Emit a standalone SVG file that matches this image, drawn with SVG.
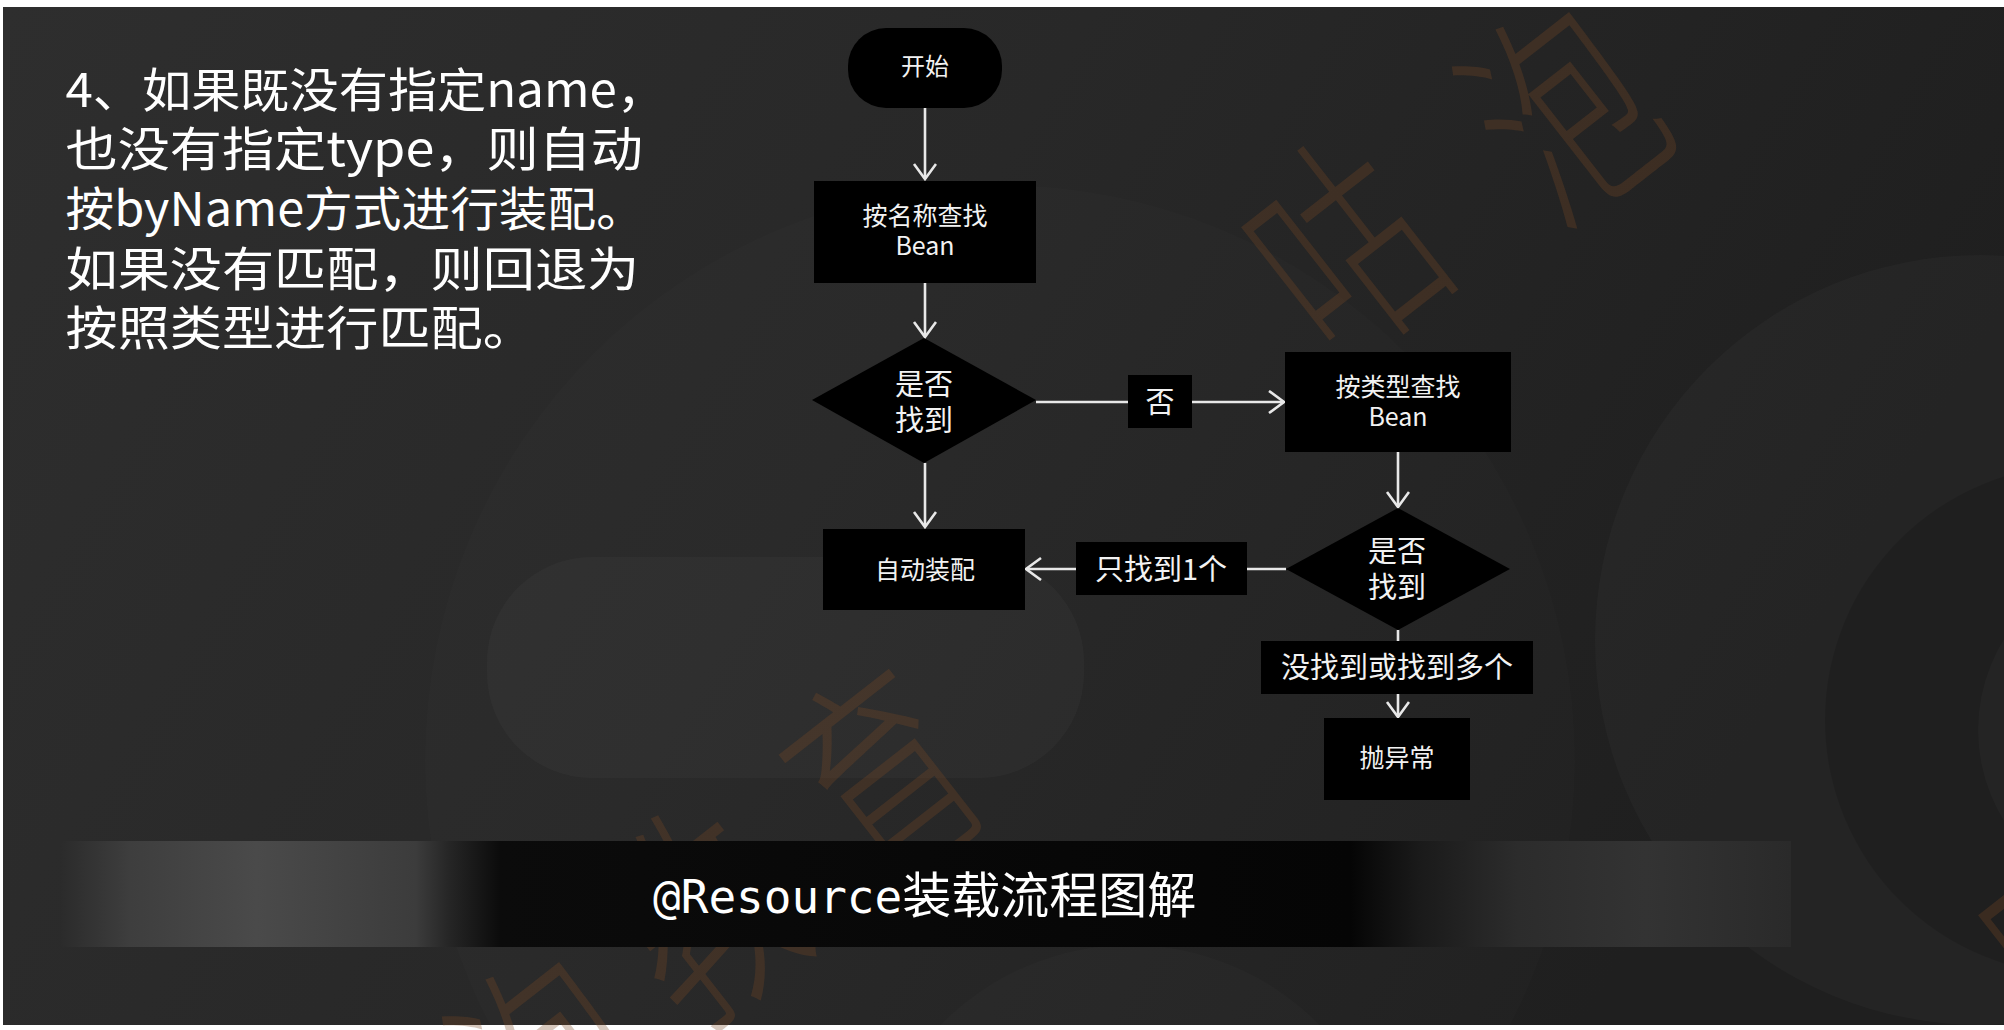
<svg xmlns="http://www.w3.org/2000/svg" width="2004" height="1030" viewBox="0 0 2004 1030">
  <defs>
    <linearGradient id="bg" x1="0" y1="0" x2="1" y2="0.3">
      <stop offset="0" stop-color="#2e2e2e"/>
      <stop offset="0.5" stop-color="#282828"/>
      <stop offset="1" stop-color="#1f1f1f"/>
    </linearGradient>
    <linearGradient id="bar" gradientUnits="userSpaceOnUse" x1="61" y1="0" x2="1791" y2="0">
      <stop offset="0" stop-color="#2b2b2b"/>
      <stop offset="0.04" stop-color="#3e3e3e"/>
      <stop offset="0.113" stop-color="#4a4a4a"/>
      <stop offset="0.205" stop-color="#3c3c3c"/>
      <stop offset="0.224" stop-color="#262626"/>
      <stop offset="0.254" stop-color="#0b0b0b"/>
      <stop offset="0.745" stop-color="#050505"/>
      <stop offset="0.785" stop-color="#1a1a1a"/>
      <stop offset="0.842" stop-color="#2c2c2c"/>
      <stop offset="0.916" stop-color="#333333"/>
      <stop offset="1" stop-color="#2a2a2a"/>
    </linearGradient>
    <marker id="arrow" markerUnits="userSpaceOnUse" markerWidth="20" markerHeight="26" refX="17" refY="12" orient="auto">
      <path d="M2,1 L17,12 L2,23" fill="none" stroke="#e8e8e8" stroke-width="2.6"/>
    </marker>
    <style>
      .node { fill: #000000; }
      .t { fill: #f2f2f2; font-family: "Noto Sans CJK SC", "Noto Sans", sans-serif; text-anchor: middle; }
      .para { fill: #ffffff; font-family: "Noto Sans CJK SC", "Noto Sans", sans-serif; font-size: 47px; }
      .line { fill: none; stroke: #e8e8e8; stroke-width: 2.6; }
      .wm { fill: #7a4a25; fill-opacity: 0.3; font-family: "Noto Sans CJK SC", sans-serif; font-size: 160px; font-weight: 300; text-anchor: middle; dominant-baseline: central; }
    </style>
  </defs>

  <!-- page -->
  <rect x="0" y="0" width="2004" height="1030" fill="#ffffff"/>
  <g id="background">
    <rect x="3" y="7" width="2001" height="1018" fill="url(#bg)"/>
    <circle cx="1000" cy="760" r="575" fill="#ffffff" opacity="0.013"/>
    <rect x="487" y="557" width="597" height="221" rx="105" fill="#ffffff" opacity="0.028"/>
    <circle cx="1130" cy="1210" r="265" fill="#ffffff" opacity="0.015"/>
    <circle cx="1980" cy="640" r="385" fill="#ffffff" opacity="0.025"/>
    <circle cx="2080" cy="720" r="255" fill="#000000" opacity="0.12"/>
    <circle cx="2150" cy="730" r="172" fill="#ffffff" opacity="0.025"/>
  </g>

  <!-- watermark -->
  <g id="watermark">
    <text class="wm" transform="translate(1335,238) rotate(-38) scale(1,1.45)">咕</text>
    <text class="wm" transform="translate(1555,100) rotate(-38) scale(1,1.45)">泡</text>
    <text class="wm" transform="translate(545,1050) rotate(-38) scale(1,1.45)">泡</text>
    <text class="wm" transform="translate(690,905) rotate(-38) scale(1,1.45)">教</text>
    <text class="wm" transform="translate(875,765) rotate(-38) scale(1,1.45)">育</text>
    <text class="wm" transform="translate(2072,926) rotate(-38) scale(1,1.45)">咕</text>
  </g>

  <!-- left description -->
  <g id="description" transform="scale(1.11,1)">
    <text class="para" x="59" y="107" textLength="541" lengthAdjust="spacingAndGlyphs">4、如果既没有指定name，</text>
    <text class="para" x="59" y="166">也没有指定type，则自动</text>
    <text class="para" x="59" y="226" textLength="522" lengthAdjust="spacingAndGlyphs">按byName方式进行装配。</text>
    <text class="para" x="59" y="286">如果没有匹配，则回退为</text>
    <text class="para" x="59" y="345">按照类型进行匹配。</text>
  </g>

  <!-- connectors -->
  <g id="connectors">
    <line class="line" x1="925" y1="108" x2="925" y2="179" marker-end="url(#arrow)"/>
    <line class="line" x1="925" y1="283" x2="925" y2="337" marker-end="url(#arrow)"/>
    <line class="line" x1="925" y1="463" x2="925" y2="527" marker-end="url(#arrow)"/>
    <line class="line" x1="1036" y1="402" x2="1128" y2="402"/>
    <line class="line" x1="1192" y1="402" x2="1284" y2="402" marker-end="url(#arrow)"/>
    <line class="line" x1="1398" y1="452" x2="1398" y2="507" marker-end="url(#arrow)"/>
    <line class="line" x1="1286" y1="569" x2="1247" y2="569"/>
    <line class="line" x1="1076" y1="569" x2="1026" y2="569" marker-end="url(#arrow)"/>
    <line class="line" x1="1398" y1="630" x2="1398" y2="641"/>
    <line class="line" x1="1398" y1="694" x2="1398" y2="717" marker-end="url(#arrow)"/>
  </g>

  <!-- nodes -->
  <g id="start">
    <rect class="node" x="848" y="28" width="154" height="80" rx="38" ry="38"/>
    <text class="t" x="925" y="75" font-size="24">开始</text>
  </g>
  <g id="find-by-name">
    <rect class="node" x="814" y="181" width="222" height="102"/>
    <text class="t" font-size="25"><tspan x="925" y="225">按名称查找</tspan><tspan x="925" y="255">Bean</tspan></text>
  </g>
  <g id="found-1">
    <polygon class="node" points="924,338 1036,400 924,463 812,400"/>
    <text class="t" font-size="29"><tspan x="924" y="395">是否</tspan><tspan x="924" y="431">找到</tspan></text>
  </g>
  <g id="label-no">
    <rect class="node" x="1128" y="375" width="64" height="53"/>
    <text class="t" x="1160" y="413" font-size="29">否</text>
  </g>
  <g id="find-by-type">
    <rect class="node" x="1285" y="352" width="226" height="100"/>
    <text class="t" font-size="25"><tspan x="1398" y="396">按类型查找</tspan><tspan x="1398" y="426">Bean</tspan></text>
  </g>
  <g id="found-2">
    <polygon class="node" points="1398,508 1510,569 1398,630 1286,569"/>
    <text class="t" font-size="29"><tspan x="1397" y="562">是否</tspan><tspan x="1397" y="598">找到</tspan></text>
  </g>
  <g id="label-one">
    <rect class="node" x="1076" y="542" width="171" height="53"/>
    <text class="t" x="1161" y="580" font-size="29">只找到1个</text>
  </g>
  <g id="autowire">
    <rect class="node" x="823" y="529" width="202" height="81"/>
    <text class="t" x="925" y="579" font-size="25">自动装配</text>
  </g>
  <g id="label-none-or-many">
    <rect class="node" x="1261" y="641" width="272" height="53"/>
    <text class="t" x="1397" y="678" font-size="29">没找到或找到多个</text>
  </g>
  <g id="throw">
    <rect class="node" x="1324" y="718" width="146" height="82"/>
    <text class="t" x="1397" y="767" font-size="25">抛异常</text>
  </g>

  <!-- title bar -->
  <g id="title">
    <rect x="61" y="841" width="1730" height="106" fill="url(#bar)"/>
    <text x="653" y="913" fill="#ffffff" font-family="Noto Sans CJK SC, sans-serif" font-size="49"><tspan font-family="DejaVu Sans Mono, Noto Sans CJK SC, monospace" font-size="46">@Resource</tspan><tspan>装载流程图解</tspan></text>
  </g>
</svg>
